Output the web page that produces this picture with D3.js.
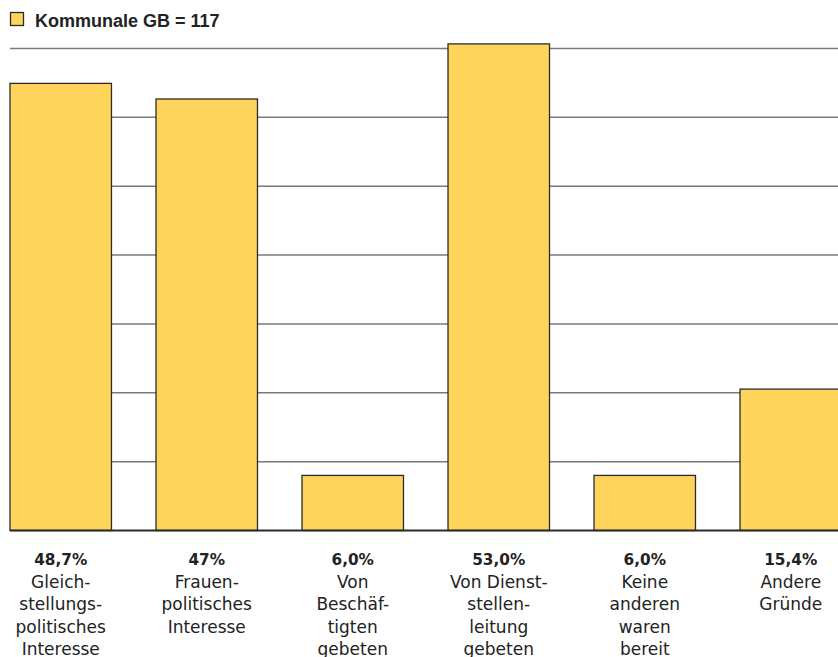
<!DOCTYPE html>
<html><head><meta charset="utf-8">
<script src="https://cdn.jsdelivr.net/npm/d3@7"></script>
<style>body{margin:0;background:#fff}svg{display:block;font-family:"DejaVu Sans",sans-serif}</style>
</head><body><svg id="c" width="838" height="657"></svg>
<script>
const categories = ["Gleichstellungspolitisches Interesse","Frauenpolitisches Interesse","Von Beschäftigten gebeten","Von Dienststellenleitung gebeten","Keine anderen waren bereit","Andere Gründe"];
const categoryLines = [["Gleich-","stellungs-","politisches","Interesse"],["Frauen-","politisches","Interesse"],["Von","Beschäf-","tigten","gebeten"],["Von Dienst-","stellen-","leitung","gebeten"],["Keine","anderen","waren","bereit"],["Andere","Gründe"]];
const values = [48.7, 47.0, 6.0, 53.0, 6.0, 15.4];
const valueLabels = ["48,7%","47%","6,0%","53,0%","6,0%","15,4%"];
const gridTicks = [7.5, 15, 22.5, 30, 37.5, 45, 52.5];
const seriesName = "Kommunale GB = 117";

const svg = d3.select("#c");
const baseY = 530.5;
const y = d3.scaleLinear().domain([0, 52.5]).range([baseY, 48.5]);
const x = d3.scaleBand().domain(categories).range([10, 841.5]).paddingInner(0.305).paddingOuter(0);
const fill = "#FED45A";

// gridlines
svg.append("g").selectAll("line").data(gridTicks).join("line")
  .attr("x1", 10).attr("x2", 838)
  .attr("y1", d => y(d)).attr("y2", d => y(d))
  .attr("stroke", "#7a7a7a").attr("stroke-width", 1.5);

// bars
svg.append("g").selectAll("rect").data(values).join("rect")
  .attr("x", (d,i) => x(categories[i]))
  .attr("width", x.bandwidth())
  .attr("y", d => y(d))
  .attr("height", d => baseY - y(d))
  .attr("fill", fill)
  .attr("stroke", "#2b2b2b").attr("stroke-width", 1.3);

// baseline
svg.append("line").attr("x1", 10).attr("x2", 838).attr("y1", baseY).attr("y2", baseY)
  .attr("stroke", "#2b2b2b").attr("stroke-width", 2.2);

// labels
const lab = svg.append("g").selectAll("text").data(categories).join("text")
  .attr("text-anchor", "middle").attr("fill", "#222").attr("font-size", 17);
lab.each(function(c, i){
  const t = d3.select(this);
  const cx = x(c) + x.bandwidth()/2;
  t.append("tspan").attr("x", cx).attr("y", 565).attr("font-weight", "bold").attr("font-size", 15.3).text(valueLabels[i]);
  categoryLines[i].forEach((l, j) => {
    t.append("tspan").attr("x", cx).attr("y", 587.5 + j*22.5).text(l);
  });
});

// legend
const lg = svg.append("g");
lg.append("rect").attr("x", 10.5).attr("y", 12.5).attr("width", 13).attr("height", 13)
  .attr("fill", fill).attr("stroke", "#2b2b2b").attr("stroke-width", 1.3);
lg.append("text").attr("x", 35).attr("y", 26.7).attr("font-size", 18).attr("font-weight", "bold")
  .attr("font-family", "'Liberation Sans',Arial,sans-serif")
  .attr("fill", "#222").text(seriesName);
</script></body></html>
